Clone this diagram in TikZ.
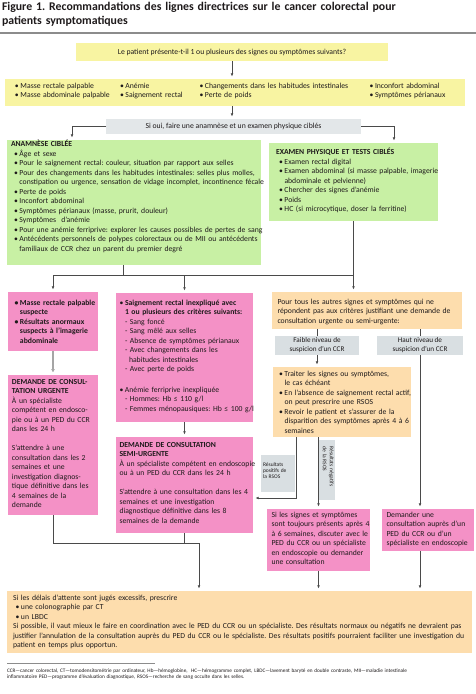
\documentclass[tikz,border=0pt]{standalone}
\usepackage{fontspec}
\setmainfont{Carlito}
\usetikzlibrary{arrows.meta}
\setlength{\parindent}{0pt}
\frenchspacing
\definecolor{cYel}{HTML}{F8F4A2}
\definecolor{cGrn}{HTML}{C8F0A4}
\definecolor{cPnk}{HTML}{F491C6}
\definecolor{cOrg}{HTML}{FDDDAD}
\definecolor{cGry}{HTML}{E3E7E9}
\definecolor{cGryB}{HTML}{D9DFE2}
\definecolor{cLine}{HTML}{4A4A4A}
\definecolor{cRule}{HTML}{8C8C8C}
\definecolor{cGArr}{HTML}{A5A5A5}
\definecolor{cTxt}{HTML}{1E1A1B}
\newcommand\fBody{\fontsize{7.7}{9.5}\selectfont}
\newcommand\fSusp{\fontsize{7.2}{9}\selectfont}
\newcommand\fLab{\fontsize{5.5}{5.7}\selectfont}
\newcommand\fRot{\fontsize{5.5}{7}\selectfont}
\newcommand\fFoot{\fontsize{5.25}{6.6}\selectfont}
\newcommand\fTitle{\fontsize{11.8}{13.8}\selectfont\bfseries}
\newcommand\myb{\makebox[5.5pt][l]{•}}
\newcommand\myi{\hspace*{5.5pt}}
\newcommand\gb{\hspace*{3pt}\myb}
\newcommand\gi{\hspace*{8.5pt}}
\begin{document}
\begin{tikzpicture}[x=1pt,y=-1pt,
  box/.style={rectangle, inner sep=0pt, outer sep=0pt, anchor=north west, draw=none, text=cTxt, font=\fBody},
  txt/.style={anchor=north west, inner sep=0pt, outer sep=0pt, text width=470pt, align=left, font=\fBody, text=cTxt, execute at begin node=\strut},
  ln/.style={draw=cLine, line width=0.75pt},
  arr/.style={ln, -{Latex[length=3.2pt,width=2.8pt]}, shorten >=2.5pt},
  garr/.style={draw=cGArr, line width=1.5pt, -{Latex[length=3.5pt,width=4pt]}, shorten >=2.5pt}
]
\useasboundingbox[fill=white] (0,0) rectangle (476,694);

% title
\node[txt, font=\fTitle] (title) at (2,1.0) {Figure 1. Recommandations des lignes directrices sur le cancer colorectal pour\\patients symptomatiques};
\draw[draw=cRule, line width=1.2pt] (0,33) -- (476,33);

% boxes
\node[box, fill=cYel, minimum width=312pt, minimum height=18pt] (q) at (76,43) {Le patient présente-t-il 1 ou plusieurs des signes ou symptômes suivants?};
\node[box, fill=cYel, minimum width=460pt, minimum height=27pt] (s) at (5,79) {};
\node[box, fill=cGry, minimum width=255pt, minimum height=15pt] (o) at (106,119) {Si oui, faire une anamnèse et un examen physique ciblés};
\node[box, fill=cGrn, minimum width=254pt, minimum height=125pt] (gA) at (7,140) {};
\node[box, fill=cGrn, minimum width=169pt, minimum height=78pt] (gB) at (269,143) {};
\node[box, fill=cPnk, minimum width=90pt, minimum height=59pt] (p1) at (8,292) {};
\node[box, fill=cPnk, minimum width=90pt, minimum height=140pt] (p2) at (8,375) {};
\node[box, fill=cPnk, minimum width=137pt, minimum height=129pt] (p3) at (116,293) {};
\node[box, fill=cPnk, minimum width=137pt, minimum height=96pt] (p4) at (116,437) {};
\node[box, fill=cOrg, minimum width=190pt, minimum height=37pt] (o1) at (272,292) {};
\node[box, fill=cGryB, minimum width=84pt, minimum height=19pt, align=center, font=\fSusp] (sF) at (275,336) {Faible niveau de\\suspicion d'un CCR};
\node[box, fill=cGryB, minimum width=86pt, minimum height=19pt, align=center, font=\fSusp] (sH) at (377,336) {Haut niveau de\\suspicion d'un CCR};
\node[box, fill=cOrg, minimum width=138pt, minimum height=70pt] (o2) at (273,367) {};
\node[box, fill=cPnk, minimum width=103pt, minimum height=62pt] (p5) at (267,509) {};
\node[box, fill=cPnk, minimum width=92pt, minimum height=42pt] (p6) at (382,509) {};
\node[box, fill=cOrg, minimum width=465pt, minimum height=62pt] (fin) at (7,591) {};
\node[box, fill=cGryB, minimum width=34pt, minimum height=37pt] (lp) at (261,455) {};
\node[box, fill=cGryB, minimum width=16pt, minimum height=60pt] (lq) at (319,440) {};

% texts
\node[txt] (tc1) at (15,81.8) {\myb Masse rectale palpable\\\myb Masse abdominale palpable};
\node[txt] (tc2) at (120,81.8) {\myb Anémie\\\myb Saignement rectal};
\node[txt] (tc3) at (199.5,81.8) {\myb Changements dans les habitudes intestinales\\\myb Perte de poids};
\node[txt] (tc4) at (369.5,81.8) {\myb Inconfort abdominal\\\myb Symptômes périanaux};

\node[txt] (tA) at (11,140.3) {\textbf{ANAMNÈSE CIBLÉE}\\
\gb Âge et sexe\\
\gb Pour le saignement rectal: couleur, situation par rapport aux selles\\
\gb Pour des changements dans les habitudes intestinales: selles plus molles,\\
\gi constipation ou urgence, sensation de vidage incomplet, incontinence fécale\\
\gb Perte de poids\\
\gb Inconfort abdominal\\
\gb Symptômes périanaux (masse, prurit, douleur)\\
\gb Symptômes\ \ d'anémie\\
\gb Pour une anémie ferriprive: explorer les causes possibles de pertes de sang\\
\gb Antécédents personnels de polypes colorectaux ou de MII ou antécédents\\
\gi familiaux de CCR chez un parent du premier degré};

\node[txt] (tB) at (276,148.3) {\textbf{EXAMEN PHYSIQUE ET TESTS CIBLÉS}\\
\gb Examen rectal digital\\
\gb Examen abdominal (si masse palpable, imagerie\\
\gi abdominale et pelvienne)\\
\gb Chercher des signes d'anémie\\
\gb Poids\\
\gb HC (si microcytique, doser la ferritine)};

\node[txt] (tp1) at (14.5,298.8) {\bfseries\myb Masse rectale palpable\\
\myi suspecte\\
\myb Résultats anormaux\\
\myi suspects à l'imagerie\\
\myi abdominale};

\node[txt] (tp2) at (12,377.8) {\textbf{DEMANDE DE CONSUL-}\\
\textbf{TATION URGENTE}\\
À un spécialiste\\
compétent en endosco-\\
pie ou à un PED du CCR\\
dans les 24 h\\[9.5pt]
S'attendre à une\\
consultation dans les 2\\
semaines et une\\
investigation diagnos-\\
tique définitive dans les\\
4 semaines de la\\
demande};

\node[txt] (tp3) at (119.5,298.8) {\myb\textbf{Saignement rectal inexpliqué avec}\\
\myi\textbf{1 ou plusieurs des critères suivants:}\\
\myi - Sang foncé\\
\myi - Sang mêlé aux selles\\
\myi - Absence de symptômes périanaux\\
\myi - Avec changements dans les\\
\myi\hspace*{4pt}habitudes intestinales\\
\myi - Avec perte de poids\\[11pt]
\myb Anémie ferriprive inexpliquée\\
\myi - Hommes: Hb ≤ 110 g/l\\
\myi - Femmes ménopausiques: Hb ≤ 100 g/l};

\node[txt] (tp4) at (119.5,440.8) {\textbf{DEMANDE DE CONSULTATION}\\
\textbf{SEMI-URGENTE}\\
À un spécialiste compétent en endoscopie\\
ou à un PED du CCR dans les 24 h\\[9.5pt]
S'attendre à une consultation dans les 4\\
semaines et une investigation\\
diagnostique définitive dans les 8\\
semaines de la demande};

\node[txt] (to1) at (277.5,297.8) {Pour tous les autres signes et symptômes qui ne\\
répondent pas aux critères justifiant une demande de\\
consultation urgente ou semi-urgente:};

\node[txt] (to2) at (279,369.8) {\myb Traiter les signes ou symptômes,\\
\myi le cas échéant\\
\myb En l'absence de saignement rectal actif,\\
\myi on peut prescrire une RSOS\\
\myb Revoir le patient et s'assurer de la\\
\myi disparition des symptômes après 4 à 6\\
\myi semaines};

\node[txt] (tp5) at (271.5,510.8) {Si les signes et symptômes\\
sont toujours présents après 4\\
à 6 semaines, discuter avec le\\
PED du CCR ou un spécialiste\\
en endoscopie ou demander\\
une consultation};

\node[txt] (tp6) at (386.5,510.8) {Demander une\\
consultation auprès d'un\\
PED du CCR ou d'un\\
spécialiste en endoscopie};

\node[txt, font=\fLab] (tlp) at (263,462.7) {Résultats\\positifs de\\la RSOS};
\node[txt, font=\fRot, rotate=-90] (tlq) at (334.8,446.7) {Résultats négatifs\\de la RSOS};

\node[txt] (tfin) at (13,593.8) {Si les délais d'attente sont jugés excessifs, prescrire\\
\hspace*{2.5pt}\myb une colonographie par CT\\
\hspace*{2.5pt}\myb un LBDC\\
Si possible, il vaut mieux le faire en coordination avec le PED du CCR ou un spécialiste. Des résultats normaux ou négatifs ne devraient pas\\
justifier l'annulation de la consultation auprès du PED du CCR ou le spécialiste. Des résultats positifs pourraient faciliter une investigation du\\
patient en temps plus opportun.};

\draw[draw=cRule, line width=0.6pt] (7,663) -- (155,663);
\node[txt, font=\fFoot] (foot) at (7,667.6) {CCR—cancer colorectal, CT—tomodensitométrie par ordinateur, Hb—hémoglobine,\ \ HC—hémogramme complet, LBDC—lavement baryté en double contraste, MII—maladie intestinale\\
inflammatoire PED—programme d'évaluation diagnostique, RSOS—recherche de sang occulte dans les selles.};

% connectors
\coordinate (hj) at (353.5,275);
\coordinate (m) at (199,543);
\draw[arr] (q.south) -- (q.south |- s.north);
\draw[arr] (q.south |- s.south) -- (q.south |- o.north);
\draw[arr] (o.west) -| ([xshift=65pt]gA.north west);
\draw[arr] (o.east) -| ([xshift=125pt]gB.north west);
\draw[ln] ([xshift=116pt]gA.south west) -- ([xshift=116pt]gA.south west |- hj);
\draw[arr] (gB.south) -- (gB.south |- o1.north);
\draw[ln] (p1.north |- hj) -- (hj);
\draw[arr] (p1.north |- hj) -- (p1.north);
\draw[arr] (p3.north |- hj) -- (p3.north);
\draw[garr] (p1.south) -- (p2.north);
\draw[arr] (p3.south) -- (p4.north);
\draw[ln] (p2.south) |- (m);
\draw[ln] (p4.south) -- (p4.south |- m);
\draw[arr] (m) -- (m |- fin.north);
\draw[ln] (sF.north |- o1.south) -- (sF.north);
\draw[ln] (sH.north |- o1.south) -- (sH.north);
\draw[arr] (sF.south) -- (sF.south |- o2.north);
\draw[arr] (sH.south) -- (sH.south |- p6.north);
\draw[arr] ([xshift=23pt]o2.south west) |- ([yshift=-61pt]p4.north east);
\draw[arr] (p5.north |- o2.south) -- (p5.north);
\draw[arr] (p5.south) -- (p5.south |- fin.north);
\draw[arr] (sH.south |- p6.south) -- (sH.south |- fin.north);
\end{tikzpicture}
\end{document}
